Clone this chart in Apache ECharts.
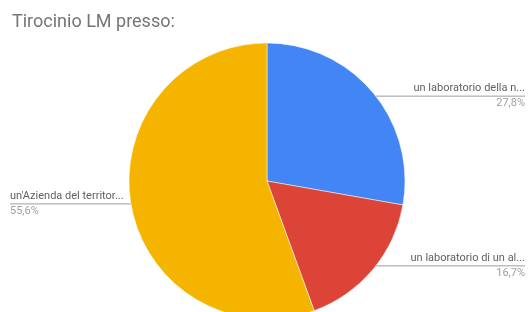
<!DOCTYPE html>
<html>
<head>
<meta charset="utf-8">
<script src="https://cdn.jsdelivr.net/npm/echarts@6/dist/echarts.min.js"></script>
<style>
  html, body { margin: 0; padding: 0; background: #fff; }
  #chart { width: 528px; height: 312px; }
</style>
</head>
<body>
<div id="chart"></div>
<script>
var categories = ["un laboratorio della n...", "un laboratorio di un al...", "un'Azienda del territor..."];
var counts = [5, 3, 10];
var percents = ["27,8%", "16,7%", "55,6%"];
var colors = ["#4285f4", "#db4437", "#f4b400"];

var chart = echarts.init(document.getElementById("chart"));

var pieData = categories.map(function (name, i) {
  return {
    name: name,
    value: counts[i],
    itemStyle: { color: colors[i] },
    label: { edgeDistance: i === 2 ? 10 : 3 }
  };
});

chart.setOption({
  animation: false,
  title: {
    text: "Tirocinio LM presso:",
    left: 7,
    top: 8,
    textStyle: {
      fontFamily: "Roboto",
      fontSize: 18,
      fontWeight: "normal",
      color: "#757575"
    }
  },
  series: [
    {
      type: "pie",
      center: [267, 181],
      radius: 138,
      startAngle: 90,
      clockwise: true,
      avoidLabelOverlap: false,
      itemStyle: { borderColor: "#fff", borderWidth: 0.5 },
      label: {
        show: true,
        alignTo: "edge",
        fontFamily: "Roboto",
        formatter: function (p) {
          return "{n|" + p.name + "}\n{v|" + percents[p.dataIndex] + "}";
        },
        rich: {
          n: { fontFamily: "Roboto", fontSize: 11, color: "#616161", lineHeight: 15 },
          v: { fontFamily: "Roboto", fontSize: 11, color: "#9e9e9e", lineHeight: 15 }
        }
      },
      labelLine: {
        show: true,
        length: -6,
        length2: 10,
        smooth: false,
        lineStyle: { color: "#9e9e9e", width: 1 }
      },
      // the guide line starts just inside the slice and runs under the whole label
      labelLayout: function (p) {
        var pts = p.labelLinePoints;
        if (!pts) return {};
        var r = p.labelRect;
        var end = pts[2][0] > pts[1][0] ? r.x + r.width : r.x;
        return { labelLinePoints: [pts[1], pts[1], [end, pts[1][1]]] };
      },
      data: pieData
    }
  ]
});
</script>
</body>
</html>
